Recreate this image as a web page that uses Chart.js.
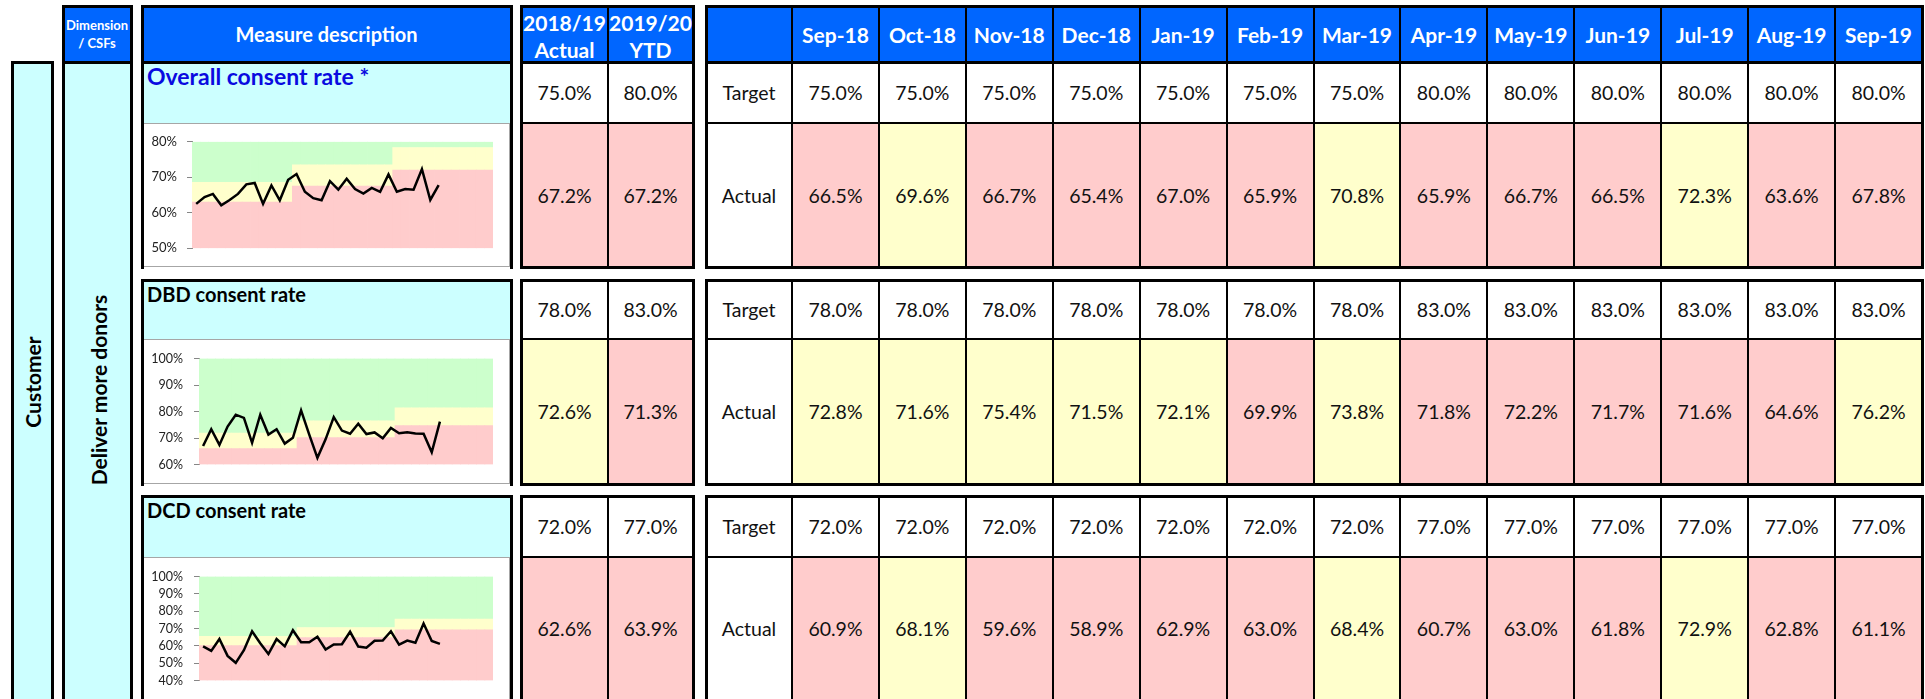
<!DOCTYPE html>
<html>
<head>
<meta charset="utf-8">
<script src="https://cdn.jsdelivr.net/npm/chart.js@4.4.1/dist/chart.umd.min.js"></script>
<style>
body { margin: 0; width: 1925px; height: 699px; overflow: hidden; background: #fff; position: relative; font-family: Lato, 'Noto Sans', sans-serif; }
.box { position: absolute; box-sizing: border-box; display: flex; align-items: center; justify-content: center; text-align: center; color: #111; font-size: 19.5px; }
.hd { color: #fff; font-weight: bold; font-size: 21px; }
.ln { position: absolute; background: #000; }
canvas { position: absolute; }
.rot { position: absolute; font-weight: bold; font-size: 21px; color: #000; white-space: nowrap; transform: translate(-50%, -50%) rotate(-90deg); }
</style>
</head>
<body>
<script>
// months shown in the table
const monthLabels = ['Sep-18', 'Oct-18', 'Nov-18', 'Dec-18', 'Jan-19', 'Feb-19', 'Mar-19', 'Apr-19', 'May-19', 'Jun-19', 'Jul-19', 'Aug-19', 'Sep-19'];
// months on the sparkline axis (3 financial years)
const sparkMonths = ['Apr-17', 'May-17', 'Jun-17', 'Jul-17', 'Aug-17', 'Sep-17', 'Oct-17', 'Nov-17', 'Dec-17', 'Jan-18', 'Feb-18', 'Mar-18',
    'Apr-18', 'May-18', 'Jun-18', 'Jul-18', 'Aug-18', 'Sep-18', 'Oct-18', 'Nov-18', 'Dec-18', 'Jan-19', 'Feb-19', 'Mar-19',
    'Apr-19', 'May-19', 'Jun-19', 'Jul-19', 'Aug-19', 'Sep-19', 'Oct-19', 'Nov-19', 'Dec-19', 'Jan-20', 'Feb-20', 'Mar-20'];

const overallTarget = [75.0, 75.0, 75.0, 75.0, 75.0, 75.0, 75.0, 80.0, 80.0, 80.0, 80.0, 80.0, 80.0];
const overallActual = [66.5, 69.6, 66.7, 65.4, 67.0, 65.9, 70.8, 65.9, 66.7, 66.5, 72.3, 63.6, 67.8];
const overallYearTarget = [75.0, 80.0];
const overallYearActual = [67.2, 67.2];
const overallHistory = [62.5, 64.4, 65.3, 62.1, 63.6, 65.3, 68.0, 68.4, 62.5, 67.7, 63.5, 69.3, 70.9, 65.9, 64.1, 63.5, 68.9];
const overallBandTargets = [70, 75, 80];

const dbdTarget = [78.0, 78.0, 78.0, 78.0, 78.0, 78.0, 78.0, 83.0, 83.0, 83.0, 83.0, 83.0, 83.0];
const dbdActual = [72.8, 71.6, 75.4, 71.5, 72.1, 69.9, 73.8, 71.8, 72.2, 71.7, 71.6, 64.6, 76.2];
const dbdYearTarget = [78.0, 83.0];
const dbdYearActual = [72.6, 71.3];
const dbdHistory = [67.0, 73.3, 67.4, 74.3, 78.8, 77.6, 68.2, 78.8, 71.3, 73.3, 67.9, 70.1, 80.4, 71.3, 62.5, 69.5, 77.9];
const dbdBandTargets = [73.3, 78, 83];

const dcdTarget = [72.0, 72.0, 72.0, 72.0, 72.0, 72.0, 72.0, 77.0, 77.0, 77.0, 77.0, 77.0, 77.0];
const dcdActual = [60.9, 68.1, 59.6, 58.9, 62.9, 63.0, 68.4, 60.7, 63.0, 61.8, 72.9, 62.8, 61.1];
const dcdYearTarget = [72.0, 77.0];
const dcdYearActual = [62.6, 63.9];
const dcdHistory = [59.7, 57.1, 63.9, 54.2, 50.2, 57.5, 68.4, 61.5, 55.3, 63.9, 59.7, 69.0, 62.1, 62.1, 65.2, 57.9, 60.8];
const dcdBandTargets = [66.8, 72, 77];

const BLUE = '#0066ff', CYAN = '#ccffff', PINK = '#ffcccc', YELLOW = '#ffffcc', GREEN = '#ccffcc';

function rag(v, t) {
    if (v < 0.9 * t) return PINK;
    if (v < 0.98 * t) return YELLOW;
    return GREEN;
}
function pct(v) { return v.toFixed(1) + '%'; }

function box(x0, y0, x1, y1, bg, html, cls) {
    const d = document.createElement('div');
    d.className = 'box ' + (cls || '');
    d.style.left = x0 + 'px';
    d.style.top = y0 + 'px';
    d.style.width = (x1 - x0) + 'px';
    d.style.height = (y1 - y0) + 'px';
    if (bg) d.style.background = bg;
    if (html != null) d.innerHTML = html;
    document.body.appendChild(d);
    return d;
}
function hline(x0, x1, y, t, c) {
    const d = document.createElement('div');
    d.className = 'ln';
    d.style.left = (x0 - t / 2) + 'px';
    d.style.top = (y - t / 2) + 'px';
    d.style.width = (x1 - x0 + t) + 'px';
    d.style.height = t + 'px';
    if (c) d.style.background = c;
    document.body.appendChild(d);
}
function vline(x, y0, y1, t, c) {
    const d = document.createElement('div');
    d.className = 'ln';
    d.style.left = (x - t / 2) + 'px';
    d.style.top = (y0 - t / 2) + 'px';
    d.style.width = t + 'px';
    d.style.height = (y1 - y0 + t) + 'px';
    if (c) d.style.background = c;
    document.body.appendChild(d);
}
function grid(X, Y) {
    for (let i = 1; i < X.length - 1; i++) vline(X[i], Y[0], Y[Y.length - 1], 2);
    for (let j = 1; j < Y.length - 1; j++) hline(X[0], X[X.length - 1], Y[j], 2);
    vline(X[0], Y[0], Y[Y.length - 1], 3);
    vline(X[X.length - 1], Y[0], Y[Y.length - 1], 3);
    hline(X[0], X[X.length - 1], Y[0], 3);
    hline(X[0], X[X.length - 1], Y[Y.length - 1], 3);
}

// layout
const HEAD = [6, 62];
const blocks = [[62, 123, 267], [280, 339, 484], [496, 557, 700]];
const valX = [521, 608, 693];
const monX = [706];
for (let k = 0; k <= 13; k++) monX.push(792 + k * (1922 - 792) / 13);

// left columns
box(12, 62, 52, 700, CYAN); grid([12, 52], [62, 700]);
box(63, 6, 131, 62, BLUE, 'Dimension<br>/ CSFs', 'hd').style.cssText += 'font-size:13px;line-height:18px;';
grid([63, 131], HEAD);
box(63, 62, 131, 700, CYAN); grid([63, 131], [62, 700]);
let r = document.createElement('div'); r.className = 'rot'; r.style.left = '32px'; r.style.top = '382px'; r.textContent = 'Customer'; document.body.appendChild(r);
r = document.createElement('div'); r.className = 'rot'; r.style.left = '98px'; r.style.top = '390px'; r.textContent = 'Deliver more donors'; document.body.appendChild(r);

// headers
box(142, 6, 511, 62, BLUE, 'Measure description', 'hd').style.fontSize = '20px';
grid([142, 511], HEAD);
const vh1 = box(521, 6, 608, 62, BLUE, '2018/19<br>Actual', 'hd');
const vh2 = box(608, 6, 693, 62, BLUE, '2019/20<br>YTD', 'hd');
[vh1, vh2].forEach(d => { d.style.lineHeight = '27px'; d.style.paddingTop = '4px'; });
grid(valX, HEAD);
box(monX[0], 6, monX[1], 62, BLUE);
monthLabels.forEach((m, i) => box(monX[i + 1], 6, monX[i + 2], 62, BLUE, m, 'hd'));
grid(monX, HEAD);

const measures = [
    { title: 'Overall consent rate *', color: '#0a0ae0', size: 23, target: overallTarget, actual: overallActual, yt: overallYearTarget, ya: overallYearActual },
    { title: 'DBD consent rate', color: '#000', size: 20, target: dbdTarget, actual: dbdActual, yt: dbdYearTarget, ya: dbdYearActual },
    { title: 'DCD consent rate', color: '#000', size: 20, target: dcdTarget, actual: dcdActual, yt: dcdYearTarget, ya: dcdYearActual }
];

measures.forEach((m, b) => {
    const [top, mid, bot] = blocks[b];
    // measure description
    const t = box(142, top, 511, mid, CYAN, m.title);
    t.style.cssText += 'justify-content:flex-start;align-items:flex-start;padding:3px 0 0 5px;line-height:22px;font-weight:bold;color:' + m.color + ';font-size:' + m.size + 'px;';
    const cb = box(143, mid, 510, bot, '#fff');
    cb.style.border = '1px solid #a6a6a6';
    vline(142, top, bot, 3); vline(511, top, bot, 3); hline(142, 511, top, 3);

    // yearly columns
    box(valX[0], top, valX[1], mid, '#fff', pct(m.yt[0]));
    box(valX[1], top, valX[2], mid, '#fff', pct(m.yt[1]));
    box(valX[0], mid, valX[1], bot, rag(m.ya[0], m.yt[0]), pct(m.ya[0]));
    box(valX[1], mid, valX[2], bot, rag(m.ya[1], m.yt[1]), pct(m.ya[1]));
    grid(valX, [top, mid, bot]);

    // monthly columns
    box(monX[0], top, monX[1], mid, '#fff', 'Target');
    box(monX[0], mid, monX[1], bot, '#fff', 'Actual');
    m.target.forEach((v, i) => box(monX[i + 1], top, monX[i + 2], mid, '#fff', pct(v)));
    m.actual.forEach((v, i) => box(monX[i + 1], mid, monX[i + 2], bot, rag(v, m.target[i]), pct(v)));
    grid(monX, [top, mid, bot]);
});

// sparklines
function bands(targets, lo, hi) {
    const red = [], amber = [], green = [];
    sparkMonths.forEach((m, i) => {
        const t = targets[Math.floor(i / 12)];
        red.push([lo, 0.9 * t]);
        amber.push([0.9 * t, 0.98 * t]);
        green.push([0.98 * t, hi]);
    });
    return { red, amber, green };
}

function sparkline(series, targets, yMin, yMax, pos) {
    const c = document.createElement('canvas');
    c.width = pos.w; c.height = pos.h;
    c.style.left = pos.x + 'px'; c.style.top = pos.y + 'px';
    document.body.appendChild(c);
    const bd = bands(targets, yMin, yMax);
    const barDefaults = { type: 'bar', grouped: false, categoryPercentage: 1, barPercentage: 1, borderWidth: 0, order: 2 };
    new Chart(c.getContext('2d'), {
        data: {
            labels: sparkMonths,
            datasets: [
                { type: 'line', data: series, borderColor: '#000', borderWidth: 2.5, pointRadius: 0, tension: 0, order: 0 },
                Object.assign({ data: bd.red, backgroundColor: PINK }, barDefaults),
                Object.assign({ data: bd.amber, backgroundColor: YELLOW }, barDefaults),
                Object.assign({ data: bd.green, backgroundColor: GREEN }, barDefaults)
            ]
        },
        options: {
            responsive: false,
            animation: false,
            layout: { padding: { top: pos.pt, bottom: pos.pb, right: pos.pr, left: 0 } },
            plugins: { legend: { display: false }, tooltip: { enabled: false } },
            scales: {
                x: { display: false },
                y: {
                    min: yMin, max: yMax,
                    afterFit: s => { s.width = pos.aw; },
                    border: { display: true, color: '#868686', width: 1 },
                    grid: { drawOnChartArea: false, drawTicks: true, tickLength: 5, color: '#868686' },
                    ticks: { stepSize: 10, padding: pos.tp, color: '#222', font: { family: 'Lato', size: pos.fs }, callback: v => v + '%' }
                }
            }
        }
    });
}

sparkline(overallHistory.concat(overallActual), overallBandTargets, 50, 80,
    { x: 145, y: 124, w: 363, h: 142, pt: 16, pb: 16, pr: 15, aw: 47, tp: 10, fs: 13 });
sparkline(dbdHistory.concat(dbdActual), dbdBandTargets, 60, 100,
    { x: 145, y: 340, w: 363, h: 143, pt: 16, pb: 17, pr: 15, aw: 54, tp: 11, fs: 12.5 });
sparkline(dcdHistory.concat(dcdActual), dcdBandTargets, 40, 100,
    { x: 145, y: 558, w: 363, h: 141, pt: 14, pb: 17, pr: 15, aw: 54, tp: 11, fs: 12.5 });
</script>
</body>
</html>
